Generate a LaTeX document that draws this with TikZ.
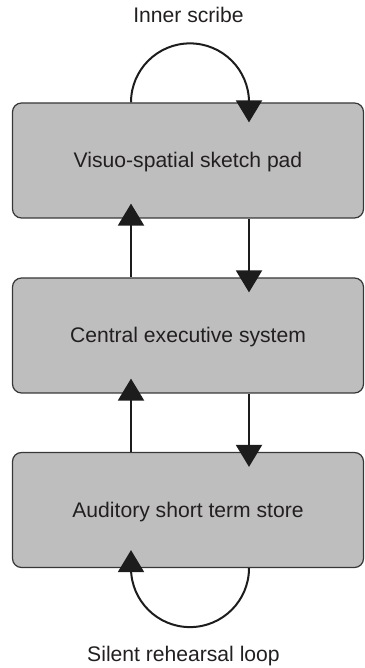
\documentclass[tikz,border=0pt]{standalone}
\usepackage{fontspec}
\setmainfont{Liberation Sans}
\usetikzlibrary{arrows.meta,calc}
\definecolor{boxfill}{RGB}{190,190,190}
\definecolor{boxline}{RGB}{55,55,55}
\definecolor{ink}{RGB}{28,28,28}
\definecolor{txt}{RGB}{35,31,32}
\begin{document}
\begin{tikzpicture}[x=1bp,y=1bp,
  memorybox/.style={draw=boxline, fill=boxfill, line width=1.2bp,
    rounded corners=9bp, minimum width=351bp, minimum height=115bp,
    inner sep=0pt, text height=15bp, text depth=0pt,
    font=\fontsize{21.2}{25}\selectfont, text=txt},
  label/.style={anchor=base, inner sep=0pt, font=\fontsize{21.2}{25}\selectfont, text=txt},
  flow/.style={draw=ink, line width=2bp, -{Triangle[length=22bp,width=26bp]}}
]
\useasboundingbox (0,0) rectangle (364,668);

% the three stores
\node[memorybox] (sketch)    at (188,507.5) {Visuo-spatial sketch pad};
\node[memorybox] (executive) at (188,332.5) {Central executive system};
\node[memorybox] (auditory)  at (188,158)   {Auditory short term store};

% columns of the up and down connectors
\coordinate (lx) at (131,0);
\coordinate (rx) at (249,0);

% captions of the two loops
\node[label] (scribe) at (188.5,645) {Inner scribe};
\node[label] (rehearsal) at (183.5,6.5) {Silent rehearsal loop};

% between the stores
\draw[flow] (executive.north -| lx) -- ($(sketch.south -| lx)+(0,15)$);
\draw[flow] (sketch.south -| rx) -- ($(executive.north -| rx)+(0,-15)$);
\draw[flow] (auditory.north -| lx) -- ($(executive.south -| lx)+(0,15)$);
\draw[flow] (executive.south -| rx) -- ($(auditory.north -| rx)+(0,-15)$);

% inner scribe loop on top
\draw[flow] (sketch.north -| lx) arc[start angle=180, end angle=0, radius=59bp]
  -- ($(sketch.north -| rx)+(0,-20)$);

% silent rehearsal loop below
\draw[flow] (auditory.south -| rx) arc[start angle=0, end angle=-180, radius=59bp]
  -- ($(auditory.south -| lx)+(0,18)$);
\end{tikzpicture}
\end{document}
